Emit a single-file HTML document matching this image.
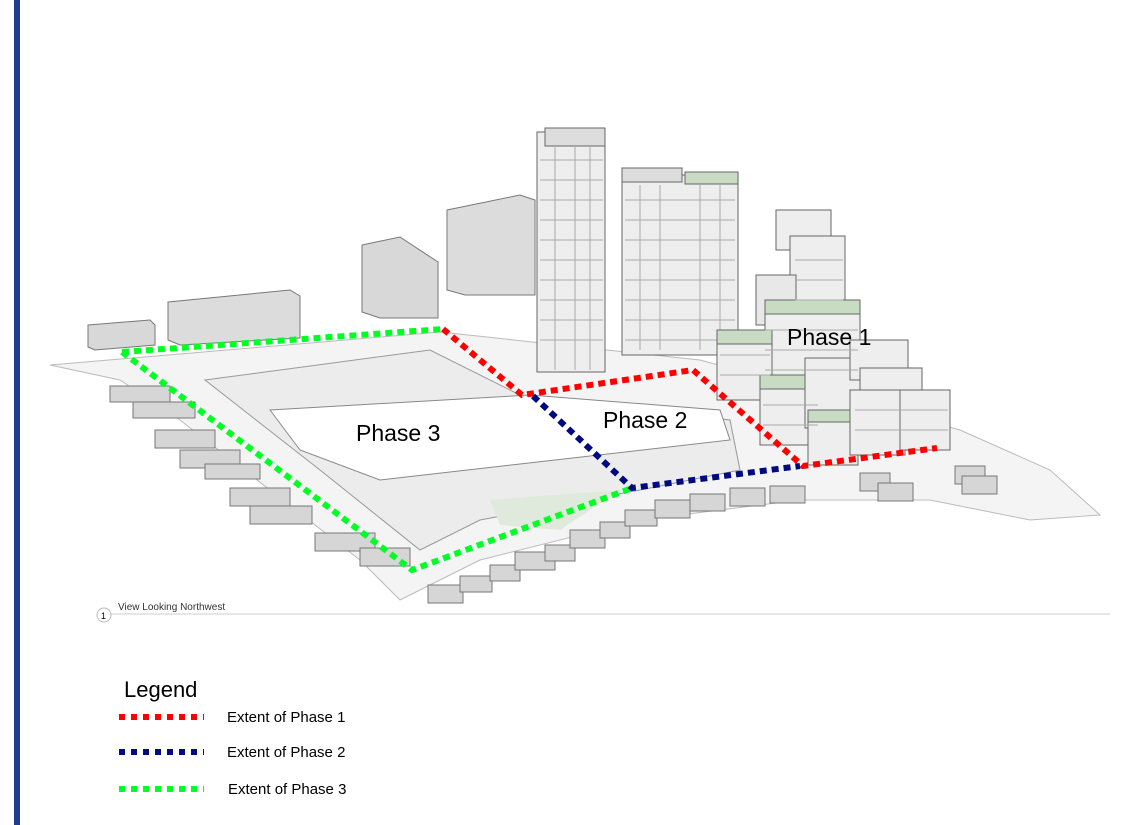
<!DOCTYPE html>
<html><head><style>
body{margin:0;width:1121px;height:825px;background:#fff;overflow:hidden;position:relative;font-family:"Liberation Sans",sans-serif}
svg{position:absolute;left:0;top:0}
</style></head><body>
<svg width="1121" height="825" viewBox="0 0 1121 825">
<rect x="14" y="0" width="6" height="825" fill="#1f3d8f"/>
<path d="M50,365 L440,332 L700,360 L960,430 L1050,470 L1100,515 L1030,520 L930,500 L800,500 L640,520 L480,560 L400,600 L360,560 L180,420 L120,380 Z" fill="#f4f4f4" stroke="#bbb" stroke-width="1"/>
<path d="M205,380 L430,350 L520,395 L730,420 L740,470 L640,490 L480,520 L420,550 L320,470 Z" fill="#ececec" stroke="#999"/>
<path d="M270,410 L530,395 L720,410 L730,440 L380,480 L300,450 Z" fill="#fff" stroke="#888"/>
<path d="M490,500 L620,490 L560,530 L500,525 Z" fill="#dfeadc"/>
<path d="M447,210 L520,195 L535,200 L535,295 L465,295 L447,290 Z" fill="#dcdcdc" stroke="#777"/>
<path d="M362,245 L400,237 L438,262 L438,318 L380,318 L362,312 Z" fill="#d8d8d8" stroke="#777"/>
<path d="M168,302 L290,290 L300,296 L300,338 L180,345 L168,340 Z" fill="#dcdcdc" stroke="#777"/>
<path d="M88,325 L150,320 L155,325 L155,345 L95,350 L88,347 Z" fill="#d8d8d8" stroke="#777"/>
<rect x="537" y="132" width="68" height="240" fill="#eee" stroke="#666"/>
<rect x="545" y="128" width="60" height="18" fill="#ddd" stroke="#666"/>
<g stroke="#aaa" stroke-width="1">
<path d="M540,160 H603 M540,180 H603 M540,200 H603 M540,220 H603 M540,240 H603 M540,260 H603 M540,280 H603 M540,300 H603 M540,320 H603 M540,340 H603 M555,146 V370 M575,146 V370 M590,146 V370"/>
</g>
<rect x="622" y="175" width="116" height="180" fill="#eee" stroke="#666"/>
<rect x="622" y="168" width="60" height="14" fill="#ddd" stroke="#666"/>
<rect x="685" y="172" width="53" height="12" fill="#c8dcc4" stroke="#666"/>
<g stroke="#aaa"><path d="M625,200 H735 M625,220 H735 M625,240 H735 M625,260 H735 M625,280 H735 M625,300 H735 M625,320 H735 M625,340 H735 M640,185 V350 M660,185 V350 M700,185 V350 M720,185 V350"/></g>
<rect x="776" y="210" width="55" height="40" fill="#eee" stroke="#666"/>
<rect x="790" y="236" width="55" height="90" fill="#eee" stroke="#666"/>
<rect x="756" y="275" width="40" height="50" fill="#e8e8e8" stroke="#666"/>
<rect x="765" y="300" width="95" height="90" fill="#eee" stroke="#666"/>
<rect x="765" y="300" width="95" height="14" fill="#c8dcc4" stroke="#666"/>
<rect x="717" y="330" width="55" height="70" fill="#eee" stroke="#666"/>
<rect x="717" y="330" width="55" height="14" fill="#c8dcc4" stroke="#666"/>
<rect x="760" y="375" width="60" height="70" fill="#eee" stroke="#666"/>
<rect x="760" y="375" width="60" height="14" fill="#c8dcc4" stroke="#666"/>
<rect x="805" y="358" width="55" height="70" fill="#eee" stroke="#666"/>
<rect x="850" y="340" width="58" height="40" fill="#eee" stroke="#666"/>
<rect x="860" y="368" width="62" height="60" fill="#eee" stroke="#666"/>
<rect x="808" y="410" width="50" height="55" fill="#eee" stroke="#666"/>
<rect x="808" y="410" width="50" height="12" fill="#c8dcc4" stroke="#666"/>
<rect x="850" y="390" width="55" height="65" fill="#eee" stroke="#666"/>
<rect x="900" y="390" width="50" height="60" fill="#eee" stroke="#666"/>
<g stroke="#aaa"><path d="M720,355 H770 M720,375 H770 M765,330 H858 M765,350 H858 M765,370 H858 M763,405 H818 M763,425 H818 M855,410 H948 M855,430 H948 M795,260 H843 M795,280 H843 M795,300 H843"/></g>
<g fill="#d6d6d6" stroke="#777">
<rect x="110" y="386" width="60" height="16"/><rect x="133" y="402" width="62" height="16"/><rect x="155" y="430" width="60" height="18"/><rect x="180" y="450" width="60" height="18"/><rect x="230" y="488" width="60" height="18"/><rect x="250" y="506" width="62" height="18"/><rect x="315" y="533" width="60" height="18"/><rect x="360" y="548" width="50" height="18"/><rect x="205" y="464" width="55" height="15"/>
<rect x="428" y="585" width="35" height="18"/><rect x="460" y="576" width="32" height="16"/><rect x="490" y="565" width="30" height="16"/><rect x="515" y="552" width="40" height="18"/><rect x="545" y="545" width="30" height="16"/><rect x="570" y="530" width="35" height="18"/><rect x="600" y="522" width="30" height="16"/><rect x="625" y="510" width="32" height="16"/><rect x="655" y="500" width="35" height="18"/><rect x="690" y="494" width="35" height="17"/><rect x="730" y="488" width="35" height="18"/><rect x="770" y="486" width="35" height="17"/><rect x="860" y="473" width="30" height="18"/><rect x="878" y="483" width="35" height="18"/><rect x="955" y="466" width="30" height="18"/><rect x="962" y="476" width="35" height="18"/>
</g>
<g fill="none" stroke-width="6" stroke-dasharray="7 5">
<path d="M122,352 L443,329" stroke="#00ff22"/>
<path d="M122,352 L412,570 L632,488" stroke="#00ff22"/>
<path d="M443,329 L522,395 L693,370 L803,466 L937,448" stroke="#ff0000"/>
<path d="M533,396 L632,488 L800,466" stroke="#000a80"/>
</g>
<text x="356" y="441" font-size="23" fill="#000">Phase 3</text>
<text x="603" y="428" font-size="23" fill="#000">Phase 2</text>
<text x="787" y="345" font-size="23" fill="#000">Phase 1</text>
<line x1="110" y1="614" x2="1110" y2="614" stroke="#ccc"/>
<circle cx="104" cy="615" r="7" fill="#fff" stroke="#bbb"/>
<text x="101" y="619" font-size="9">1</text>
<text x="118" y="610" font-size="10" fill="#333">View Looking Northwest</text>
<text x="124" y="697" font-size="22">Legend</text>
<g stroke-width="6" stroke-dasharray="6 6">
<line x1="119" y1="717" x2="204" y2="717" stroke="#ff0000"/>
<line x1="119" y1="752" x2="204" y2="752" stroke="#000a80"/>
<line x1="119" y1="789" x2="204" y2="789" stroke="#00ff22"/>
</g>
<text x="227" y="722" font-size="15">Extent of Phase 1</text>
<text x="227" y="757" font-size="15">Extent of Phase 2</text>
<text x="228" y="794" font-size="15">Extent of Phase 3</text>
</svg>
</body></html>
